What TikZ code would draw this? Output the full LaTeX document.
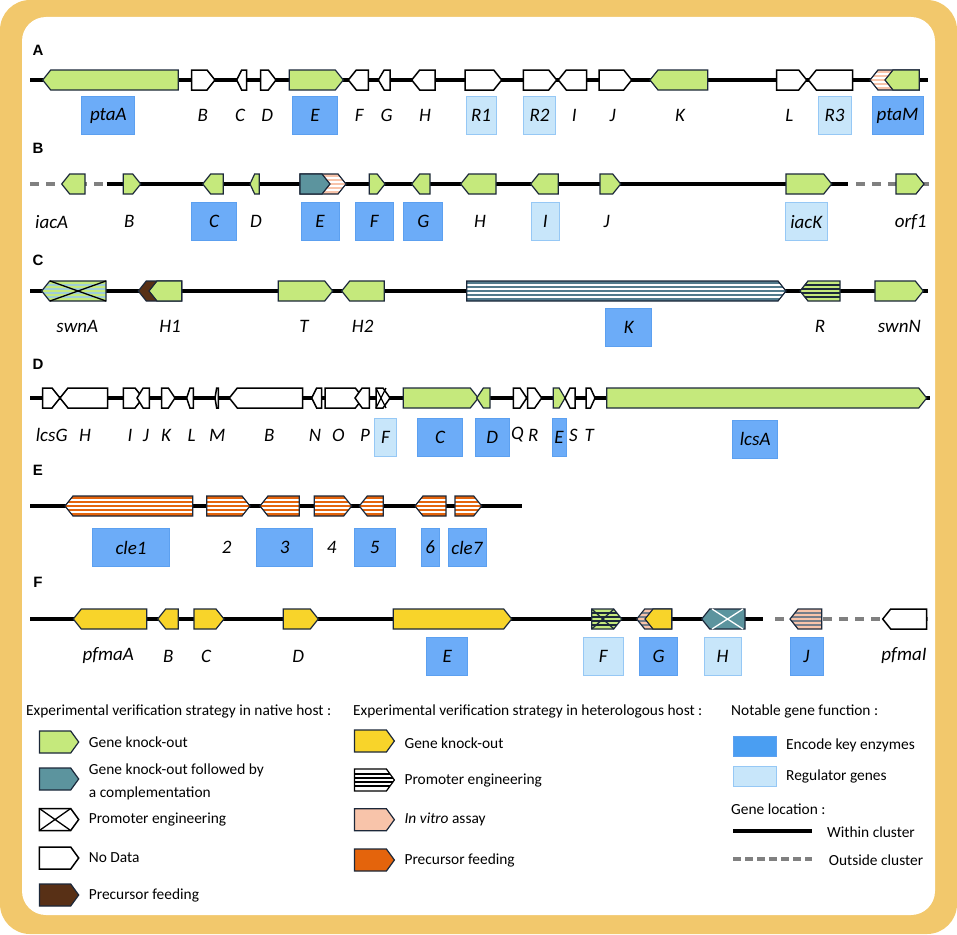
\documentclass[tikz,border=0pt]{standalone}
\usepackage{fontspec}
\setmainfont{Carlito}
\newfontfamily\panelfont{Liberation Sans}
\usepackage{tikz}
\usetikzlibrary{calc}

\definecolor{framey}{RGB}{242,200,108}
\definecolor{gline}{RGB}{28,40,58}
\definecolor{kogreen}{RGB}{197,233,124}
\definecolor{compteal}{RGB}{92,148,158}
\definecolor{featbrown}{RGB}{88,48,22}
\definecolor{hetyellow}{RGB}{248,212,42}
\definecolor{vitropink}{RGB}{248,196,170}
\definecolor{feedorange}{RGB}{228,100,12}
\definecolor{kteal}{RGB}{82,122,140}
\definecolor{swnblue}{RGB}{160,205,215}
\definecolor{keyblue}{RGB}{108,172,248}
\definecolor{keyedge}{RGB}{92,160,240}
\definecolor{legblue}{RGB}{74,158,242}
\definecolor{regblue}{RGB}{200,230,250}
\definecolor{regedge}{RGB}{150,200,245}
\definecolor{dashgray}{RGB}{128,128,128}

% gene arrows: [style]{x start}{x end}{y}
\newcommand{\gh}{10}
\newcommand{\gR}[4][nd]{%
  \pgfmathsetmacro\hd{min(8,(#3-#2)/2)}%
  \draw[#1] (#2,#4-\gh) -- (#3-\hd,#4-\gh) -- (#3,#4) -- (#3-\hd,#4+\gh) -- (#2,#4+\gh) -- cycle;}
\newcommand{\gL}[4][nd]{%
  \pgfmathsetmacro\hd{min(8,(#3-#2)/2)}%
  \draw[#1] (#2,#4) -- (#2+\hd,#4-\gh) -- (#3,#4-\gh) -- (#3,#4+\gh) -- (#2+\hd,#4+\gh) -- cycle;}
% chevron-ended part of a gene
\newcommand{\cR}[4][ko]{\draw[#1] (#2,#4-\gh) -- (#3,#4-\gh) -- (#3+8,#4) -- (#3,#4+\gh) -- (#2,#4+\gh) -- cycle;}
\newcommand{\cL}[4][ko]{\draw[#1] (#2,#4-\gh) -- (#3,#4-\gh) -- (#3,#4+\gh) -- (#2,#4+\gh) -- (#2-8,#4) -- cycle;}
% cross over a gene body
\newcommand{\gX}[4][black]{\draw[#1, line width=1.3pt] (#2,#4-\gh) -- (#3,#4+\gh) (#2,#4+\gh) -- (#3,#4-\gh);}

\tikzset{
  gene/.style={draw=gline, line width=1.2pt},
  bands/.style={path picture={\foreach \s in {-6,-2,2,6}
      \draw[#1, line width=1.2pt] ([yshift=\s pt]path picture bounding box.west) -- ([yshift=\s pt]path picture bounding box.east);}},
  ko/.style={gene, fill=kogreen},
  nd/.style={gene, draw=black, fill=white, line width=1.5pt},
  comp/.style={gene, fill=compteal},
  brown/.style={gene, fill=featbrown},
  het/.style={gene, fill=hetyellow},
  vitro/.style={gene, fill=vitropink, bands=white},
  vitrod/.style={gene, fill=vitropink, bands=gline!60},
  feed/.style={gene, fill=feedorange, bands=white},
  prom/.style={gene, draw=black, fill=white, bands=black},
  swn/.style={gene, fill=kogreen, bands=swnblue},
  rstr/.style={gene, fill=kogreen, bands=gline},
  kstr/.style={gene, fill=kteal, bands=white},
  track/.style={line width=3.2pt, black},
  outside/.style={line width=3.2pt, dashgray, dash pattern=on 9pt off 7pt},
  glab/.style={font=\fontsize{19}{19}\selectfont\itshape, inner sep=0pt},
  keyb/.style={glab, fill=keyblue, draw=keyedge, line width=0.8pt, minimum height=38pt},
  regb/.style={keyb, fill=regblue, draw=regedge},
  panel/.style={font=\panelfont\bfseries\fontsize{15}{15}\selectfont, inner sep=0pt},
  leg/.style={anchor=west, font=\fontsize{15.4}{23}\selectfont, inner sep=0pt, align=left}
}

\begin{document}
\begin{tikzpicture}[x=1pt, y=-1pt]
\useasboundingbox (0,0) rectangle (957,934);
\fill[framey, rounded corners=30] (0,0) rectangle (957,934);
\fill[white, rounded corners=24] (22,17) rectangle (935,915);

% ---- A ----
\node[panel] (pA) at (38,50) {A};
\draw[track] (30,80) -- (928,80);
\gL[ko]{42.7}{178.3}{80}
\gR{191.7}{215}{80}
\gL{236.7}{246.7}{80}
\gR{260.7}{276}{80}
\gR[ko]{289.3}{343.3}{80}
\gL{348.3}{368.3}{80}
\gL{378.3}{390}{80}
\gL{411.7}{435}{80}
\gR{465}{501.7}{80}
\gR{523.3}{556.7}{80}
\gL{558.3}{586.7}{80}
\gR{599}{631.7}{80}
\gL[ko]{650}{707.7}{80}
\gR{776.7}{806.7}{80}
\gL{808.3}{852.7}{80}
\gL[vitro]{870}{919.3}{80}
\cL[ko]{893}{919.3}{80}
\node[keyb, minimum width=53pt] (aptaA) at (108.3,115.5) {ptaA};
\node[glab] (aB) at (202.7,115) {B};
\node[glab] (aC) at (240,115) {C};
\node[glab] (aD) at (267.3,115) {D};
\node[keyb, minimum width=45pt] (aE) at (315,115.5) {E};
\node[glab] (aF) at (359.3,115) {F};
\node[glab] (aG) at (386.7,115) {G};
\node[glab] (aH) at (425,115) {H};
\node[regb, minimum width=30pt] (aR1) at (481,115.5) {R1};
\node[regb, minimum width=32pt] (aR2) at (539.5,115.5) {R2};
\node[glab] (aI) at (574.3,115) {I};
\node[glab] (aJ) at (612.7,115) {J};
\node[glab] (aK) at (680,115) {K};
\node[glab] (aL) at (789.3,115) {L};
\node[regb, minimum width=33pt] (aR3) at (834.5,115.5) {R3};
\node[keyb, minimum width=51pt] (aptaM) at (897.5,115.5) {ptaM};

% ---- B ----
\node[panel] (pB) at (38,148) {B};
\draw[outside] (30,184) -- (106.7,184);
\draw[track] (106.7,184) -- (848,184);
\draw[outside] (856,184) -- (935,184);
\gL[ko]{61.7}{85}{184}
\gR[ko]{123.3}{140.7}{184}
\gL[ko]{202.7}{223.3}{184}
\gL[ko]{250}{259.3}{184}
\gR[vitro]{300}{346}{184}
\cR[comp]{300}{322}{184}
\gR[ko]{369.3}{385}{184}
\gL[ko]{411.7}{430}{184}
\gL[ko]{460.7}{496}{184}
\gL[ko]{530.7}{558.3}{184}
\gR[ko]{600}{620.7}{184}
\gR[ko]{786}{831.7}{184}
\gR[ko]{896}{924}{184}
\node[glab] (biacA) at (51.7,221.7) {iacA};
\node[glab] (bB) at (129.3,221.7) {B};
\node[keyb, minimum width=45pt] (bC) at (214.2,221.7) {C};
\node[glab] (bD) at (256,221.7) {D};
\node[keyb, minimum width=38pt] (bE) at (320,221.7) {E};
\node[keyb, minimum width=38pt] (bF) at (374.2,221.7) {F};
\node[keyb, minimum width=39pt] (bG) at (423.3,221.7) {G};
\node[glab] (bH) at (480,221.7) {H};
\node[regb, minimum width=28pt] (bI) at (545.2,221.7) {I};
\node[glab] (bJ) at (606.7,221.7) {J};
\node[regb, minimum width=42pt] (biacK) at (806.2,221.7) {iacK};
\node[glab] (borf1) at (910.7,221.7) {orf1};

% ---- C ----
\node[panel] (pC) at (38,260) {C};
\draw[track] (30,291) -- (928,291);
\gL[swn]{41.7}{106}{291}
\gX{50}{106}{291}
\gL[brown]{138.3}{181.7}{291}
\cL[ko]{157}{181.7}{291}
\gR[ko]{278.3}{332.7}{291}
\gL[ko]{341.7}{384.3}{291}
\gR[kstr]{466.7}{786}{291}
\gL[rstr]{800}{840}{291}
\gR[ko]{875}{923.3}{291}
\node[glab] (cswnA) at (77.3,326) {swnA};
\node[glab] (cH1) at (170,326) {H1};
\node[glab] (cT) at (304,326) {T};
\node[glab] (cH2) at (362.7,326) {H2};
\node[keyb, minimum width=46pt] (cK) at (628.8,327.5) {K};
\node[glab] (cR) at (820,326) {R};
\node[glab] (cswnN) at (899.3,326) {swnN};

% ---- D ----
\node[panel] (pD) at (38,364) {D};
\draw[track] (30,398) -- (930,398);
\gR{42.7}{60}{398}
\gL{60}{107.7}{398}
\gR{123.3}{143}{398}
\gL{137}{149.3}{398}
\gR{161.7}{175}{398}
\gL{186.7}{193.3}{398}
\gL{215}{218.3}{398}
\gL{229.3}{302.7}{398}
\gL{311.7}{321.7}{398}
\gR{325}{363.3}{398}
\gL{355}{369.3}{398}
\gR{376}{390}{398}
\gX{376}{386}{398}
\gR[ko]{403.3}{478.3}{398}
\gL[ko]{476.7}{490}{398}
\gR{513.3}{526.7}{398}
\gR{527.7}{541.7}{398}
\gR[ko]{553.3}{565}{398}
\gL{565}{575}{398}
\gR{586}{595}{398}
\gR[ko]{606.7}{926.7}{398}
\node[glab] (dlcsG) at (51.7,435) {lcsG};
\node[glab] (dH) at (85,435) {H};
\node[glab] (dI) at (130,435) {I};
\node[glab] (dJ) at (146,435) {J};
\node[glab] (dK) at (166,435) {K};
\node[glab] (dL) at (191.7,435) {L};
\node[glab] (dM) at (217.3,435) {M};
\node[glab] (dB) at (269.3,435) {B};
\node[glab] (dN) at (315,435) {N};
\node[glab] (dO) at (338.3,435) {O};
\node[glab] (dP) at (365,435) {P};
\node[regb, minimum width=22pt] (dF) at (385.5,437.5) {F};
\node[keyb, minimum width=45pt] (dC) at (440.2,437.5) {C};
\node[keyb, minimum width=34pt] (dD) at (492.2,437.5) {D};
\node[glab] (dQ) at (517.3,435) {Q};
\node[glab] (dR) at (533.3,435) {R};
\node[keyb, minimum width=14pt] (dE) at (558.9,437.5) {E};
\node[glab] (dS) at (573.3,435) {S};
\node[glab] (dT) at (589.3,435) {T};
\node[keyb, minimum width=45pt] (dlcsA) at (755.2,439) {lcsA};

% ---- E ----
\node[panel] (pE) at (38,470) {E};
\draw[track] (30,506) -- (521.7,506);
\gL[feed]{65}{192.7}{506}
\gR[feed]{206.7}{250}{506}
\gL[feed]{260}{299.3}{506}
\gR[feed]{314.3}{351.7}{506}
\gL[feed]{359.3}{383.3}{506}
\gL[feed]{415}{446}{506}
\gR[feed]{455}{481.7}{506}
\node[keyb, minimum width=77pt] (ecle1) at (131,547.5) {cle1};
\node[glab] (e2) at (226.7,547.5) {2};
\node[keyb, minimum width=56pt] (e3) at (284.7,547.5) {3};
\node[glab] (e4) at (331.7,547.5) {4};
\node[keyb, minimum width=41pt] (e5) at (374.7,547.5) {5};
\node[keyb, minimum width=18pt] (e6) at (430.2,547.5) {6};
\node[keyb, minimum width=38pt] (ecle7) at (466.9,547.5) {cle7};

% ---- F ----
\node[panel] (pF) at (38,582) {F};
\draw[track] (30,619) -- (763.3,619);
\draw[outside] (775,619) -- (935,619);
\gL[het]{73.3}{146.7}{619}
\gL[het]{157.7}{178.3}{619}
\gR[het]{194}{224}{619}
\gR[het]{283.3}{318.3}{619}
\gR[het]{393.3}{511.7}{619}
\gR[rstr]{591.7}{621.7}{619}
\gX[gline]{591.7}{614}{619}
\gL[vitrod]{636.7}{671.7}{619}
\cL[het]{653}{671.7}{619}
\gL[comp]{701.7}{745}{619}
\gX[white, line width=2.5pt]{712}{743}{619}
\gL[vitrod]{790}{821.7}{619}
\gL{882.7}{926.7}{619}
\node[glab] (fpfmaA) at (108.3,656) {pfmaA};
\node[glab] (fB) at (168.3,656) {B};
\node[glab] (fC) at (206,656) {C};
\node[glab] (fD) at (298.3,656) {D};
\node[keyb, minimum width=41pt] (fE) at (447.2,656) {E};
\node[regb, minimum width=40pt] (fF) at (603.3,656) {F};
\node[keyb, minimum width=38pt] (fG) at (658.5,656) {G};
\node[regb, minimum width=37pt] (fH) at (722.5,656) {H};
\node[keyb, minimum width=33pt] (fJ) at (806.4,656) {J};
\node[glab] (fpfmaI) at (904,656) {pfmaI};

% ---- legend ----
\begin{scope}
\renewcommand{\gh}{11}
\node[leg] (t1) at (26,711) {Experimental verification strategy in native host :};
\node[leg] (t2) at (353,711) {Experimental verification strategy in heterologous host :};
\node[leg] (t3) at (731,711) {Notable gene function :};
\gR[ko]{39.4}{78.7}{742}
\node[leg] (l1) at (88.7,742) {Gene knock-out};
\gR[comp]{39.4}{78.7}{779}
\node[leg] (l2) at (88.7,782) {Gene knock-out followed by\\a complementation};
\gR{39.4}{78.7}{819.5}
\gX{39.4}{70.7}{819.5}
\node[leg] (l3) at (88.7,820) {Promoter engineering};
\gR{39.4}{78.7}{858}
\node[leg] (l4) at (88.7,857.3) {No Data};
\gR[brown]{39.4}{78.7}{895}
\node[leg] (l5) at (88.7,895) {Precursor feeding};
\gR[het]{354.5}{394.4}{741}
\node[leg] (h1) at (404.4,742.7) {Gene knock-out};
\gR[prom]{354.5}{394.4}{780}
\node[leg] (h2) at (404.4,780.7) {Promoter engineering};
\gR[gene, fill=vitropink]{354.5}{394.4}{819.7}
\node[leg] (h3) at (404.4,819.3) {\textit{In vitro} assay};
\gR[gene, fill=feedorange]{354.5}{394.4}{860}
\node[leg] (h4) at (404.4,860) {Precursor feeding};
\node[fill=legblue, draw=keyedge, minimum width=43pt, minimum height=20pt, inner sep=0pt] (kb1) at (754.5,746) {};
\node[leg] (k1) at (786,745.7) {Encode key enzymes};
\node[fill=regblue, draw=regedge, minimum width=43pt, minimum height=20pt, inner sep=0pt] (kb2) at (754.5,776.4) {};
\node[leg] (k2) at (786,776.7) {Regulator genes};
\node[leg] (t4) at (731,809.3) {Gene location :};
\coordinate (w0) at (733,831);
\coordinate (w1) at (812.3,831);
\draw[track] (w0) -- (w1);
\node[leg] (k3) at (827,831.7) {Within cluster};
\coordinate (o0) at (733,859);
\coordinate (o1) at (812.3,859);
\draw[outside, dash pattern=on 8pt off 4pt] (o0) -- (o1);
\node[leg] (k4) at (828.7,860) {Outside cluster};
\end{scope}
\end{tikzpicture}
\end{document}
